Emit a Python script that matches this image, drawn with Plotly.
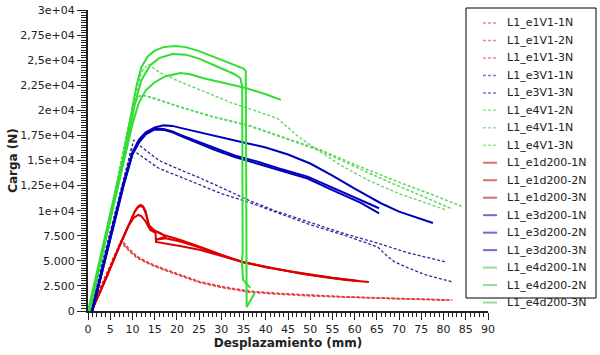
import plotly.graph_objects as go

# ---------------- data ----------------
# e1V1 (red dashed)
e1V1_1N_x = [0.5, 2, 4, 5.5, 6.5, 7.5, 9, 11, 13, 15, 18, 21, 25, 30, 36, 42, 50, 58, 66, 74, 81.6]
e1V1_1N_y = [0, 1500, 3500, 5000, 6000, 7000, 6200, 5400, 4900, 4500, 4000, 3500, 2900, 2400, 1950, 1750, 1550, 1400, 1280, 1180, 1080]
e1V1_2N_x = [0.5, 2, 4, 5.5, 6.3, 7.3, 9, 11, 13, 15, 18, 21, 25, 30, 36, 42, 50, 58, 66, 74, 80.5]
e1V1_2N_y = [0, 1500, 3500, 5000, 5900, 6900, 6100, 5300, 4850, 4450, 3950, 3450, 2850, 2350, 1900, 1700, 1500, 1380, 1260, 1160, 1080]
e1V1_3N_x = [0.5, 2, 4, 5.5, 6.6, 7.6, 9, 11, 13, 15, 18, 21, 25, 30, 36, 42, 50, 58, 66, 74, 82]
e1V1_3N_y = [0, 1500, 3500, 5000, 6100, 7050, 6300, 5450, 4950, 4550, 4050, 3550, 2950, 2450, 2000, 1780, 1580, 1420, 1300, 1200, 1100]

# e3V1 (blue dashed)
e3V1_1N_x = [0.5, 3, 6, 8, 9.5, 10.3, 11, 13, 16, 20.8, 25, 30, 36, 42, 50, 57, 65, 72, 80.5]
e3V1_1N_y = [0, 4300, 9500, 13000, 15700, 17050, 16700, 16000, 15000, 14060, 13300, 12300, 11070, 10000, 8800, 7800, 6780, 5800, 4890]
e3V1_3N_x = [0.5, 3, 6, 8, 9.2, 9.8, 10.5, 13, 16, 20.8, 25, 30, 36.6, 43, 50, 58, 65.2, 67, 68.9, 72, 76, 82]
e3V1_3N_y = [0, 4300, 9500, 13000, 15200, 16250, 15900, 15100, 14200, 13360, 12600, 11700, 10770, 9700, 8600, 7500, 6380, 5600, 4920, 4300, 3600, 2890]

# e4V1 (green dashed)
e4V1_2N_x = [0.3, 3, 6, 9, 11, 12, 13.5, 16, 20.8, 26, 32, 38, 42.6, 47, 51.6, 57, 62.9, 70, 80.5]
e4V1_2N_y = [0, 5600, 11800, 18000, 22000, 23800, 24600, 23800, 22830, 21900, 20800, 19900, 19200, 17500, 16050, 14500, 13060, 11700, 10070]
e4V1_1N_x = [0.5, 3, 6, 8.9, 10.5, 11.5, 12.3, 15, 20.8, 28, 35.9, 44, 52.4, 60, 70.4, 78, 84.4]
e4V1_1N_y = [0, 5300, 11800, 18050, 20800, 21400, 21530, 21200, 20340, 19400, 18540, 17300, 16050, 14600, 12760, 11500, 10370]
e4V1_3N_x = [0.5, 3, 6, 8.9, 10.5, 11.5, 12.3, 15, 20.8, 28, 35.9, 44, 52.4, 60, 68, 75, 82]
e4V1_3N_y = [0, 5300, 11800, 18050, 20800, 21400, 21500, 21150, 20300, 19350, 18500, 17250, 15950, 14400, 12800, 11500, 10150]

# e1d200 (red solid)
e1d200_1N_x = [0.8, 4, 7, 9, 10.5, 11.2, 11.8, 12.4, 13, 13.6, 15, 17, 20.8, 25.3, 30, 34.8, 40, 43.4, 48, 53, 58, 63.2]
e1d200_1N_y = [0, 3200, 6400, 8400, 9900, 10400, 10570, 10450, 9900, 8600, 8000, 7580, 7080, 6380, 5600, 4890, 4400, 4090, 3700, 3390, 3100, 2890]
e1d200_2N_x = [0.8, 4, 7, 9, 10.3, 11.3, 12, 13, 14, 15.2, 15.3, 18, 21, 25.3, 30, 34.8, 40, 45, 50, 55, 60]
e1d200_2N_y = [0, 3200, 6400, 8400, 9300, 9570, 9450, 8900, 8080, 7780, 6880, 6700, 6450, 6080, 5500, 4890, 4350, 3950, 3600, 3300, 3050]
e1d200_3N_x = [0.8, 4, 7, 9, 10.5, 11.2, 11.7, 12.4, 13, 14, 16.5, 17.5, 15.2, 17.5, 21, 25.3, 30, 34.8, 40, 45, 50, 55, 61]
e1d200_3N_y = [0, 3200, 6400, 8400, 9900, 10300, 10450, 10350, 9700, 8200, 7700, 7400, 7100, 7250, 6900, 6300, 5550, 4890, 4380, 3980, 3620, 3320, 3000]

# e3d200 (blue solid)
e3d200_1N_x = [0.8, 3, 6, 8, 10, 11.5, 13, 15, 17, 19, 20.8, 25, 30, 35, 40, 45, 50, 55, 60, 65.9, 70, 75.6, 77.6]
e3d200_1N_y = [0, 3900, 9300, 12800, 15800, 17100, 17800, 18300, 18500, 18450, 18250, 17800, 17300, 16800, 16300, 15600, 14700, 13500, 12200, 10740, 9900, 9070, 8770]
e3d200_2N_x = [1, 3, 6, 8, 10, 11.5, 13, 15, 17, 19, 20.8, 24, 28.3, 33, 38, 43, 49.4, 55, 61.4, 65.5]
e3d200_2N_y = [0, 3600, 9000, 12500, 15700, 16900, 17700, 18200, 18150, 17900, 17550, 17000, 16250, 15500, 14900, 14200, 13390, 12300, 11070, 10240]
e3d200_3N_x = [1, 3, 6, 8, 10, 11.5, 13, 15, 17, 19, 20.8, 24, 28.3, 33, 38, 43, 49.4, 55, 61.4, 65.5]
e3d200_3N_y = [0, 3600, 9000, 12500, 15600, 16800, 17600, 18100, 18050, 17800, 17450, 16850, 16100, 15350, 14700, 14000, 13200, 12050, 10770, 9740]

# e4d200 (green solid)
e4d200_1N_x = [0, 2, 5, 8, 10, 11, 12, 13.5, 15, 17, 19.7, 22, 25, 30, 35, 35.5, 35.7, 37.5]
e4d200_1N_y = [0, 3900, 9700, 15500, 20300, 22600, 24300, 25400, 25950, 26300, 26420, 26300, 25900, 25000, 24150, 23900, 400, 1800]
e4d200_2N_x = [0.3, 3, 6, 8.5, 10.5, 12, 14, 16, 19, 22, 25, 30, 33, 34.3, 34.7, 34.8, 34.6, 34.9, 36.5]
e4d200_2N_y = [0, 5200, 11000, 16000, 20500, 23000, 24500, 25200, 25620, 25550, 25150, 24200, 23600, 23200, 22300, 5800, 5000, 3100, 2300]
e4d200_3N_x = [0.3, 3, 6, 8.5, 10, 11.4, 13, 15, 17.5, 20.8, 23, 26, 30, 35.5, 40, 43.4]
e4d200_3N_y = [0, 5200, 11000, 15800, 18600, 20700, 22000, 22800, 23400, 23730, 23600, 23200, 22800, 22230, 21600, 21040]

# tick labels
y_tickvals = [0, 2500, 5000, 7500, 10000, 12500, 15000, 17500, 20000, 22500, 25000, 27500, 30000]
y_ticktext = ["0", "2.500", "5.000", "7.500", "1e+04", "1,25e+04", "1,5e+04", "1,75e+04",
              "2e+04", "2,25e+04", "2,5e+04", "2,75e+04", "3e+04"]
x_tickvals = list(range(0, 95, 5))

# ---------------- styles ----------------
RED_D, RED_D_KEY = "#e34040", "#ee8a8a"
BLUE_D, BLUE_D_KEY = "#2a2a9a", "#7a7ac8"
GREEN_D, GREEN_D_KEY = "#5cd65c", "#99e699"
RED_S, RED_S_KEY = "#dd0000", "#e26a6a"
BLUE_S, BLUE_S_KEY = "#0000bb", "#6e6ed2"
GREEN_S, GREEN_S_KEY = "#33dd33", "#8fe28f"

series = [
    ("L1_e1V1-1N", e1V1_1N_x, e1V1_1N_y, RED_D, RED_D_KEY, "dash", 1.5),
    ("L1_e1V1-2N", e1V1_2N_x, e1V1_2N_y, RED_D, RED_D_KEY, "dash", 1.5),
    ("L1_e1V1-3N", e1V1_3N_x, e1V1_3N_y, RED_D, RED_D_KEY, "dash", 1.5),
    ("L1_e3V1-1N", e3V1_1N_x, e3V1_1N_y, BLUE_D, BLUE_D_KEY, "dash", 1.3),
    ("L1_e3V1-3N", e3V1_3N_x, e3V1_3N_y, BLUE_D, BLUE_D_KEY, "dash", 1.3),
    ("L1_e4V1-2N", e4V1_2N_x, e4V1_2N_y, GREEN_D, GREEN_D_KEY, "dash", 1.3),
    ("L1_e4V1-1N", e4V1_1N_x, e4V1_1N_y, GREEN_D, GREEN_D_KEY, "dash", 1.5),
    ("L1_e4V1-3N", e4V1_3N_x, e4V1_3N_y, GREEN_D, GREEN_D_KEY, "dash", 1.5),
    ("L1_e1d200-1N", e1d200_1N_x, e1d200_1N_y, RED_S, RED_S_KEY, "solid", 2),
    ("L1_e1d200-2N", e1d200_2N_x, e1d200_2N_y, RED_S, RED_S_KEY, "solid", 2),
    ("L1_e1d200-3N", e1d200_3N_x, e1d200_3N_y, RED_S, RED_S_KEY, "solid", 2),
    ("L1_e3d200-1N", e3d200_1N_x, e3d200_1N_y, BLUE_S, BLUE_S_KEY, "solid", 2),
    ("L1_e3d200-2N", e3d200_2N_x, e3d200_2N_y, BLUE_S, BLUE_S_KEY, "solid", 2),
    ("L1_e3d200-3N", e3d200_3N_x, e3d200_3N_y, BLUE_S, BLUE_S_KEY, "solid", 2),
    ("L1_e4d200-1N", e4d200_1N_x, e4d200_1N_y, GREEN_S, GREEN_S_KEY, "solid", 2),
    ("L1_e4d200-2N", e4d200_2N_x, e4d200_2N_y, GREEN_S, GREEN_S_KEY, "solid", 2),
    ("L1_e4d200-3N", e4d200_3N_x, e4d200_3N_y, GREEN_S, GREEN_S_KEY, "solid", 2),
]

FONT = "DejaVu Sans"
W, H = 600, 355
ML, MR, MT, MB = 88, 112, 10, 44
PW, PH = W - ML - MR, H - MT - MB


def px2paper(px, py):
    return (px - ML) / PW, (H - MB - py) / PH


fig = go.Figure()
for name, xs, ys, col, key, dash, w in series:
    fig.add_trace(go.Scatter(
        x=xs, y=ys, name=name, mode="lines", showlegend=False,
        line=dict(color=col, width=w, dash="3px,2px" if dash == "dash" else "solid"),
    ))

# ---- legend box (drawn as layout shapes + text, to match the compact entry spacing) ----
shapes = []
annotations = []
bx0, by0 = px2paper(466, 298)
bx1, by1 = px2paper(596, 8)
shapes.append(dict(type="rect", xref="paper", yref="paper", x0=bx0, y0=by0, x1=bx1, y1=by1,
                   line=dict(color="black", width=1), fillcolor="rgba(255,255,255,0)", layer="above"))
row0, row_step = 23, 17.47
for i, (name, xs, ys, col, key, dash, w) in enumerate(series):
    cy = row0 + i * row_step
    sx0, sy = px2paper(483, cy)
    sx1, _ = px2paper(497, cy)
    shapes.append(dict(type="line", xref="paper", yref="paper", x0=sx0, x1=sx1, y0=sy, y1=sy,
                       line=dict(color=key, width=2 if dash == "solid" else 1.5,
                                 dash="3px,2px" if dash == "dash" else "solid"),
                       layer="above"))
    tx, _ = px2paper(505, cy)
    annotations.append(dict(text=name, xref="paper", yref="paper", x=tx, y=sy,
                            xanchor="left", yanchor="middle", showarrow=False,
                            font=dict(family=FONT, size=11, color="#222")))

fig.update_layout(
    width=W, height=H,
    margin=dict(l=ML, r=MR, t=MT, b=MB, autoexpand=False),
    paper_bgcolor="white", plot_bgcolor="white",
    font=dict(family=FONT, size=11, color="#222"),
    showlegend=False,
    shapes=shapes,
    annotations=annotations,
    xaxis=dict(
        range=[0, 90], tickvals=x_tickvals, ticktext=[str(v) for v in x_tickvals],
        showgrid=False, zeroline=False,
        showline=True, linecolor="#222", linewidth=2,
        ticks="outside", ticklen=7, tickwidth=1, tickcolor="#222",
        minor=dict(dtick=1, ticks="outside", ticklen=4, tickcolor="#222", showgrid=False),
        title=dict(text="<b>Desplazamiento (mm)</b>", font=dict(family=FONT, size=12, color="#222"), standoff=3),
    ),
    yaxis=dict(
        range=[0, 30000], tickvals=y_tickvals, ticktext=y_ticktext,
        showgrid=False, zeroline=False,
        showline=True, linecolor="#222", linewidth=2,
        ticks="outside", ticklen=9, tickwidth=1, tickcolor="#222",
        minor=dict(dtick=250, ticks="outside", ticklen=5, tickcolor="#222", showgrid=False),
        title=dict(text="<b>Carga (N)</b>", font=dict(family=FONT, size=12, color="#222"), standoff=0),
    ),
)

fig.write_html("out.html", config={"displayModeBar": False},
               post_script="document.body.style.margin='0px';")
